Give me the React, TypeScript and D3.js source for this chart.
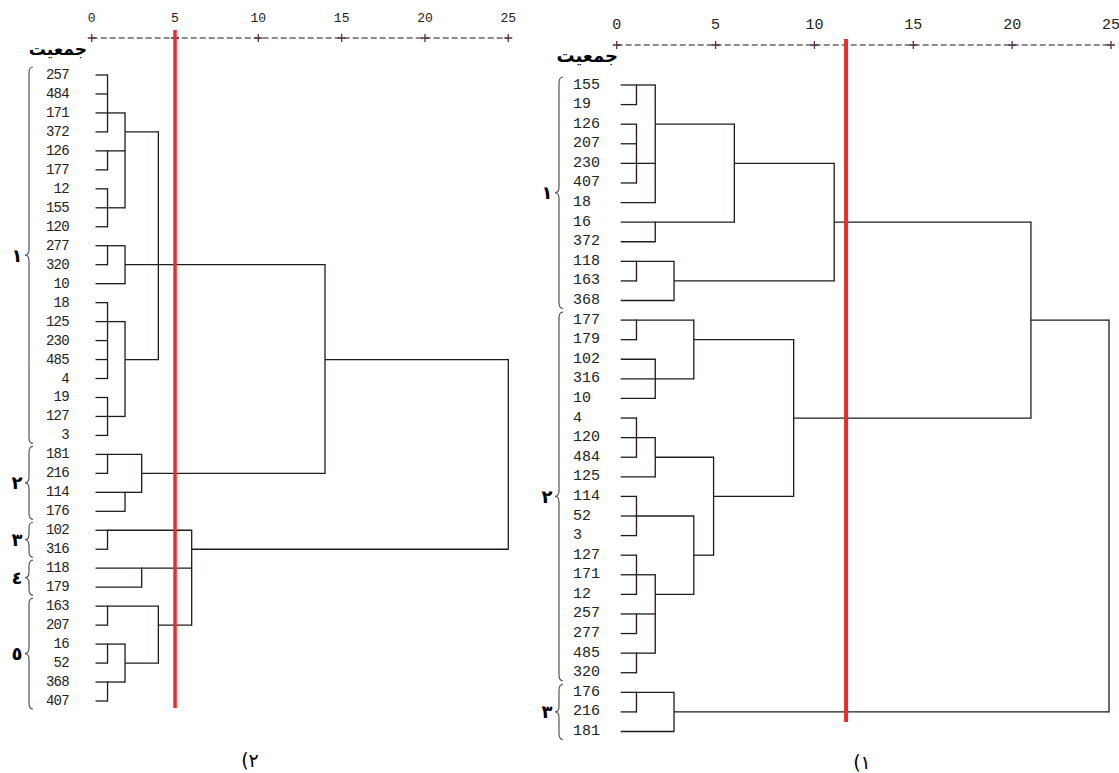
import React, { useEffect, useRef } from "react";
import * as d3 from "d3";

// panel (2) - left dendrogram
const leftLeaves = ["257", "484", "171", "372", "126", "177", "12", "155", "120", "277", "320", "10", "18", "125", "230", "485", "4", "19", "127", "3", "181", "216", "114", "176", "102", "316", "118", "179", "163", "207", "16", "52", "368", "407"];
// kids: number = leaf index, string = id of an earlier merge; row = leaf row the link leaves from
const leftMerges = [
  { id: "a", h: 0.95, row: 2, kids: [0, 1, 2, 3] },
  { id: "b", h: 0.95, row: 4, kids: [4, 5] },
  { id: "c", h: 0.95, row: 7, kids: [6, 7, 8] },
  { id: "d", h: 2, row: 3, kids: ["a", "b", "c"] },
  { id: "e1", h: 0.95, row: 9, kids: [9, 10] },
  { id: "e", h: 2, row: 10, kids: ["e1", 11] },
  { id: "f1", h: 0.95, row: 13, kids: [12, 13, 14, 15, 16] },
  { id: "f2", h: 0.95, row: 18, kids: [17, 18, 19] },
  { id: "f", h: 2, row: 15, kids: ["f1", "f2"] },
  { id: "g", h: 4, row: 10, kids: ["d", "e", "f"] },
  { id: "h1", h: 0.95, row: 20, kids: [20, 21] },
  { id: "h2", h: 2, row: 22, kids: [22, 23] },
  { id: "h", h: 3, row: 21, kids: ["h1", "h2"] },
  { id: "i", h: 14, row: 15, kids: ["g", "h"] },
  { id: "j", h: 0.95, row: 24, kids: [24, 25] },
  { id: "k", h: 3, row: 26, kids: [26, 27] },
  { id: "l1", h: 0.95, row: 28, kids: [28, 29] },
  { id: "l2a", h: 0.95, row: 30, kids: [30, 31] },
  { id: "l2b", h: 0.95, row: 32, kids: [32, 33] },
  { id: "l2", h: 2, row: 31, kids: ["l2a", "l2b"] },
  { id: "l", h: 4, row: 29, kids: ["l1", "l2"] },
  { id: "n", h: 6, row: 25, kids: ["j", "k", "l"] },
  { id: "root", h: 25, row: 20, kids: ["i", "n"] },
];
const leftGroups = [
  { from: 0, to: 19, label: "١" },
  { from: 20, to: 23, label: "٢" },
  { from: 24, to: 25, label: "٣" },
  { from: 26, to: 27, label: "٤" },
  { from: 28, to: 33, label: "٥" },
];
const leftCut = 5;

// panel (1) - right dendrogram
const rightLeaves = ["155", "19", "126", "207", "230", "407", "18", "16", "372", "118", "163", "368", "177", "179", "102", "316", "10", "4", "120", "484", "125", "114", "52", "3", "127", "171", "12", "257", "277", "485", "320", "176", "216", "181"];
const rightMerges = [
  { id: "A1", h: 1, row: 0, kids: [0, 1] },
  { id: "A2", h: 1, row: 4, kids: [2, 3, 4, 5] },
  { id: "A", h: 1.95, row: 2, kids: ["A1", "A2", 6] },
  { id: "B", h: 1.95, row: 7, kids: [7, 8] },
  { id: "C", h: 5.95, row: 4, kids: ["A", "B"] },
  { id: "D1", h: 1, row: 9, kids: [9, 10] },
  { id: "D", h: 2.9, row: 10, kids: ["D1", 11] },
  { id: "E", h: 11, row: 7, kids: ["C", "D"] },
  { id: "F1", h: 1, row: 12, kids: [12, 13] },
  { id: "F2", h: 1.95, row: 15, kids: [14, 15, 16] },
  { id: "F", h: 3.9, row: 13, kids: ["F1", "F2"] },
  { id: "G1", h: 1, row: 18, kids: [17, 18, 19] },
  { id: "G", h: 1.95, row: 19, kids: ["G1", 20] },
  { id: "H1", h: 1, row: 22, kids: [21, 22, 23] },
  { id: "I1", h: 1, row: 25, kids: [24, 25, 26] },
  { id: "I2", h: 1, row: 27, kids: [27, 28] },
  { id: "I3", h: 1, row: 29, kids: [29, 30] },
  { id: "I", h: 1.95, row: 26, kids: ["I1", "I2", "I3"] },
  { id: "H", h: 3.9, row: 24, kids: ["H1", "I"] },
  { id: "J", h: 4.9, row: 21, kids: ["G", "H"] },
  { id: "K", h: 8.95, row: 17, kids: ["F", "J"] },
  { id: "L", h: 20.95, row: 12, kids: ["E", "K"] },
  { id: "M1", h: 1, row: 31, kids: [31, 32] },
  { id: "M", h: 2.9, row: 32, kids: ["M1", 33] },
  { id: "R", h: 24.9, row: 22, kids: ["L", "M"] },
];
const rightGroups = [
  { from: 0, to: 11, label: "١" },
  { from: 12, to: 30, label: "٢" },
  { from: 31, to: 33, label: "٣" },
];
const rightCut = 11.6;

const axisTicks = [0, 5, 10, 15, 20, 25];
const headerWord = "جمعیت";

function drawPanel(svg, p) {
  const g = svg.append("g");
  const x = d3.scaleLinear().domain([0, 25]).range(p.xRange);
  const y = d3.scaleLinear().domain([0, p.leaves.length - 1]).range(p.yRange);

  // top axis: dashed rule with "+" at ticks
  g.append("line")
    .attr("x1", x(0)).attr("x2", x(25))
    .attr("y1", p.axisY).attr("y2", p.axisY)
    .attr("stroke", "#1a1a1a").attr("stroke-width", 1.2)
    .attr("stroke-dasharray", "6,3");
  g.selectAll(".plus").data(axisTicks).join("path")
    .attr("class", "plus")
    .attr("d", (d) => `M${x(d) - 4},${p.axisY}H${x(d) + 4}M${x(d)},${p.axisY - 4}V${p.axisY + 4}`)
    .attr("stroke", "#5a2d4c").attr("stroke-width", 1.3);
  g.selectAll(".tick").data(axisTicks).join("text")
    .attr("class", "tick")
    .attr("x", (d) => x(d)).attr("y", p.tickY)
    .attr("text-anchor", "middle").attr("dominant-baseline", "central")
    .style("font-family", "Liberation Mono, monospace")
    .style("font-size", p.tickSize + "px").style("fill", "#222")
    .text((d) => d);

  // header word
  g.append("text")
    .attr("x", p.wordX).attr("y", p.wordY)
    .attr("text-anchor", "end")
    .style("font-family", "DejaVu Sans, sans-serif")
    .style("font-weight", "bold").style("font-size", p.wordSize + "px")
    .text(headerWord);

  // leaf labels
  g.selectAll(".leaf").data(p.leaves).join("text")
    .attr("class", "leaf")
    .attr("x", p.labelX).attr("y", (d, i) => y(i))
    .attr("text-anchor", p.labelAnchor).attr("dominant-baseline", "central")
    .style("font-family", "Liberation Mono, monospace")
    .style("font-size", p.labelSize + "px")
    .style("letter-spacing", p.letterSpacing + "px")
    .style("fill", "#222")
    .text((d) => d);

  // links
  const byId = new Map(p.merges.map((m) => [m.id, m]));
  const rowOf = (k) => (typeof k === "number" ? k : byId.get(k).row);
  const fromX = (k) => (typeof k === "number" ? p.leafX : x(byId.get(k).h));
  const hSegs = [];
  const vSegs = [];
  p.merges.forEach((m) => {
    m.kids.forEach((k) => hSegs.push({ x1: fromX(k), x2: x(m.h), y: y(rowOf(k)) }));
    const rows = m.kids.map(rowOf);
    vSegs.push({ x: x(m.h), y1: y(d3.min(rows)), y2: y(d3.max(rows)) });
  });
  g.selectAll(".hl").data(hSegs).join("line")
    .attr("class", "hl")
    .attr("x1", (d) => d.x1).attr("x2", (d) => d.x2)
    .attr("y1", (d) => d.y).attr("y2", (d) => d.y)
    .attr("stroke", "#1e1e1e").attr("stroke-width", 1.3);
  g.selectAll(".vl").data(vSegs).join("line")
    .attr("class", "vl")
    .attr("x1", (d) => d.x).attr("x2", (d) => d.x)
    .attr("y1", (d) => d.y1 - 0.6).attr("y2", (d) => d.y2 + 0.6)
    .attr("stroke", "#2a1618").attr("stroke-width", 1.3);

  // cluster braces
  const bracePath = (d) => {
    const top = y(d.from) - 8, bot = y(d.to) + 8, mid = (top + bot) / 2;
    const xr = p.braceX, xt = p.braceX - 8, xm = p.braceX - 4;
    const r = Math.min(6, (bot - top) / 4);
    return `M${xr},${top}Q${xm},${top} ${xm},${top + r}L${xm},${mid - r}Q${xm},${mid} ${xt},${mid}` +
      `Q${xm},${mid} ${xm},${mid + r}L${xm},${bot - r}Q${xm},${bot} ${xr},${bot}`;
  };
  g.selectAll(".brace").data(p.groups).join("path")
    .attr("class", "brace")
    .attr("d", bracePath)
    .attr("fill", "none").attr("stroke", "#555").attr("stroke-width", 1.2);
  g.selectAll(".glabel").data(p.groups).join("text")
    .attr("class", "glabel")
    .attr("x", p.braceX - 16).attr("y", (d) => (y(d.from) + y(d.to)) / 2)
    .attr("text-anchor", "middle").attr("dominant-baseline", "central")
    .style("font-family", "DejaVu Sans, sans-serif")
    .style("font-weight", "bold").style("font-size", "18px")
    .text((d) => d.label);

  // cut line
  g.append("line")
    .attr("x1", x(p.cut)).attr("x2", x(p.cut))
    .attr("y1", p.cutY[0]).attr("y2", p.cutY[1])
    .attr("stroke", "#ee2b2b").attr("stroke-width", p.cutWidth);

  // caption, glyph order forced: paren then digit
  g.append("text")
    .attr("x", p.capX).attr("y", p.capY)
    .attr("text-anchor", "middle").attr("dominant-baseline", "central")
    .attr("direction", "ltr").attr("unicode-bidi", "bidi-override")
    .style("font-family", "DejaVu Sans, sans-serif")
    .style("font-size", "19px")
    .text(p.caption);
}

export default function App() {
  const ref = useRef(null);

  useEffect(() => {
    const svg = d3.select(ref.current);
    svg.selectAll("*").remove();

    drawPanel(svg, {
      leaves: leftLeaves, merges: leftMerges, groups: leftGroups, cut: leftCut,
      xRange: [91.7, 508.3], yRange: [75, 701], axisY: 38, tickY: 18, tickSize: 13,
      wordX: 87, wordY: 55, wordSize: 17,
      labelX: 69, labelAnchor: "end", labelSize: 14, letterSpacing: -0.7, leafX: 95.5,
      braceX: 33, cutY: [30, 708], cutWidth: 3.5,
      capX: 250, capY: 760, caption: "(٢",
    });
    drawPanel(svg, {
      leaves: rightLeaves, merges: rightMerges, groups: rightGroups, cut: rightCut,
      xRange: [616.7, 1111], yRange: [85, 731.5], axisY: 45, tickY: 25, tickSize: 15,
      wordX: 618, wordY: 62, wordSize: 18,
      labelX: 573, labelAnchor: "start", labelSize: 15, letterSpacing: 0, leafX: 620.7,
      braceX: 563, cutY: [39, 722], cutWidth: 4,
      capX: 862, capY: 762, caption: "(١",
    });
  }, []);

  return (
    <>
      <style>{`body{margin:0;background:#fff}`}</style>
      <svg ref={ref} width={1119} height={773} style={{ display: "block" }} />
    </>
  );
}
